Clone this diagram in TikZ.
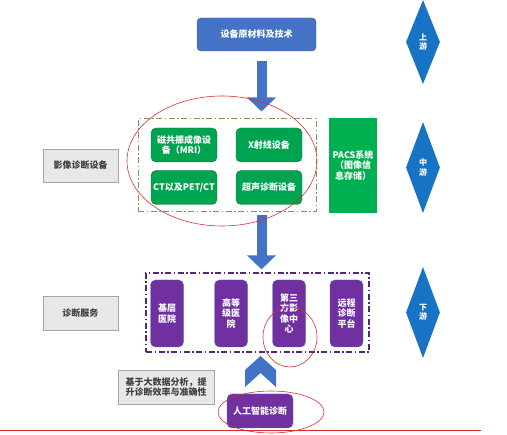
\documentclass[tikz,border=0pt]{standalone}
\usepackage{fontspec}
\setmainfont{Noto Sans CJK SC}
\usepackage{xcolor}
\usetikzlibrary{shapes.geometric,positioning,calc,arrows.meta}

\definecolor{boxblue}{RGB}{68,114,196}
\definecolor{diablue}{RGB}{24,115,196}
\definecolor{eqgreen}{RGB}{0,163,80}
\definecolor{eqedge}{RGB}{20,110,60}
\definecolor{pacsgreen}{RGB}{0,176,80}
\definecolor{svcpurple}{RGB}{112,48,160}
\definecolor{framegreen}{RGB}{125,150,95}
\definecolor{framepurple}{RGB}{80,40,130}
\definecolor{greyfill}{RGB}{232,232,232}
\definecolor{greyedge}{RGB}{165,165,165}
\definecolor{markred}{RGB}{220,45,45}

\tikzset{
  boxtext/.style={font=\fontsize{9}{10.5}\selectfont\bfseries, align=center, inner sep=0pt},
  bluebox/.style={boxtext, rounded corners=4pt, fill=boxblue, draw=boxblue!80!black, text=white},
  eqbox/.style={boxtext, rounded corners=5pt, fill=eqgreen, draw=eqedge, text=white,
    minimum width=66pt, minimum height=34pt},
  pacsbox/.style={boxtext, fill=pacsgreen, text=white, minimum width=48pt, minimum height=95pt},
  svcbox/.style={boxtext, rounded corners=5pt, fill=svcpurple, draw=boxblue, text=white,
    minimum width=33pt, minimum height=67pt},
  greybox/.style={boxtext, fill=greyfill, draw=greyedge, text=black!75},
  stagediamond/.style={diamond, fill=diablue, text=white, inner sep=0pt,
    font=\fontsize{8}{9.5}\selectfont\bfseries, align=center, minimum width=34pt},
  dashdot/.style={dash pattern=on 6pt off 2.5pt on 1.5pt off 2.5pt},
  bigarrow/.style={draw=boxblue, line width=10pt,
    -{Triangle[width=28pt,length=14pt]}},
  redmark/.style={draw=markred, line width=0.6pt}
}

\begin{document}
\begin{tikzpicture}[x=1pt,y=-1pt]
    \useasboundingbox (0,0) rectangle (507,435);

    % Upstream
    \node[bluebox, minimum width=119pt, minimum height=33pt] (top) at (256.5,34.5) {设备原材料及技术};

    % Imaging equipment
    \node[greybox, minimum width=75pt, minimum height=33pt] (img) at (80.5,165.5) {影像诊断设备};
    \node[draw=framegreen, line width=1pt, dashdot, minimum width=178pt, minimum height=93pt] (grn) at (227,165.5) {};
    \node[eqbox] (mri) at (184,145) {磁共振成像设\\备（MRI）};
    \node[eqbox] (xray) at (269,145) {X射线设备};
    \node[eqbox] (ct) at (184,187.5) {CT以及PET/CT};
    \node[eqbox] (us) at (269,187.5) {超声诊断设备};
    \node[pacsbox] (pacs) at (353,165.5) {PACS系统\\（图像信\\息存储）};

    % Diagnosis services
    \node[greybox, minimum width=75pt, minimum height=34pt] (svc) at (80.5,313) {诊断服务};
    \node[draw=framepurple, line width=1.2pt, dashdot, minimum width=223pt, minimum height=79pt] (pur) at (257.5,312.5) {};
    \node[svcbox] (base) at (167,313.5) {基层\\医院};
    \node[svcbox] (high) at (231,313.5) {高等\\级医\\院};
    \node[svcbox] (third) at (289,313.5) {第三\\方影\\像中\\心};
    \node[svcbox] (remote) at (346.5,313.5) {远程\\诊断\\平台};

    % AI
    \node[greybox, minimum width=96pt, minimum height=34pt] (data) at (166,387) {基于大数据分析，提\\升诊断效率与准确性};
    \node[svcbox, minimum width=66pt, minimum height=34pt] (ai) at (260,411) {人工智能诊断};

    % Stages
    \node[stagediamond, minimum height=84pt] (up) at (423,42) {上\\游};
    \node[stagediamond, minimum height=91pt] (mid) at (423,167.5) {中\\游};
    \node[stagediamond, minimum height=91pt] (down) at (423,312.5) {下\\游};

    % Arrows
    \coordinate (ax) at (261.5,0);
    \draw[bigarrow] ([yshift=-10pt]top.south -| ax) -- ([yshift=7pt]grn.north -| ax);
    \draw[bigarrow] ([yshift=-3pt]grn.south -| ax) -- ([yshift=3pt]pur.north -| ax);
    \fill[boxblue] (245,370) -- (260.5,356) -- (276,370) -- (276,387) -- (260.5,373) -- (245,387) -- cycle;

    % Red marks
    \draw[redmark] (222,161) ellipse (95 and 65);
    \draw[redmark] (290,337) ellipse (27 and 30);
    \draw[redmark] (271,412) ellipse (53 and 21);
    \draw[redmark] (0,430) -- (481,430);
\end{tikzpicture}
\end{document}
